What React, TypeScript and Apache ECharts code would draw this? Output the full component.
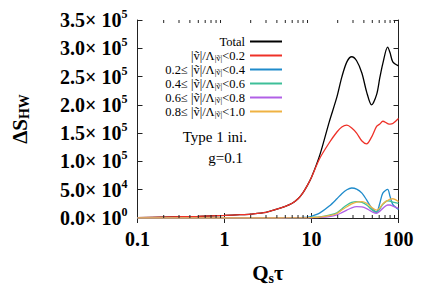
import React, { useEffect, useRef } from "react";
import * as echarts from "echarts";

const xs = [0.1, 0.2, 0.5, 1, 1.5, 2, 3, 4, 5, 6, 7, 8, 9, 10, 12.5, 16, 19.6, 22.3, 25.5, 29, 33, 38, 43, 49, 56, 61, 66, 75, 80, 86, 100];

const totalVals = [500, 1500, 3000, 4500, 5800, 7000, 10000, 15500, 20500, 26000, 34000, 45000, 58000, 72000, 112000, 170000, 214000, 249000, 276000, 285000, 278000, 256000, 223000, 200000, 218000, 248000, 273000, 302000, 292000, 276000, 269000];
const bin1Vals = [500, 1500, 3000, 4500, 5800, 7000, 10000, 15500, 20500, 26000, 34000, 45000, 58000, 72000, 106000, 133000, 152000, 161000, 164000, 159000, 150000, 136000, 131000, 143000, 162000, 166000, 171000, 167000, 166000, 167000, 176000];
const bin2Vals = [0, 0, 0, 0, 0, 0, 50, 100, 200, 300, 500, 900, 1500, 3000, 9000, 21000, 34000, 43000, 50000, 53000, 51000, 44000, 32000, 18000, 11000, 26000, 44000, 50500, 38000, 24000, 15000];
const bin3Vals = [0, 0, 0, 0, 0, 0, 0, 30, 60, 100, 150, 250, 400, 1000, 2000, 5000, 9000, 16000, 23000, 27500, 29000, 27500, 23000, 15000, 9500, 16000, 24000, 30500, 30000, 28000, 26000];
const bin4Vals = [0, 0, 0, 0, 0, 0, 0, 20, 40, 70, 100, 150, 250, 400, 1000, 2500, 5500, 9500, 14000, 18000, 20000, 19500, 16500, 11500, 8300, 12000, 17000, 23000, 23000, 21000, 17000];
const bin5Vals = [0, 0, 0, 0, 0, 0, 0, 25, 50, 90, 130, 200, 350, 800, 1600, 4000, 8000, 14000, 20000, 25000, 28000, 28800, 26000, 19000, 14000, 18000, 25000, 31000, 33500, 34000, 29000];

const seriesNames = ["Total", "bin 0.0-0.2", "bin 0.2-0.4", "bin 0.4-0.6", "bin 0.6-0.8", "bin 0.8-1.0"];
const legendLabels = [
  "{t|Total}",
  "{t||ṽ|/Λ}{s||ṽ|}{t|<0.2}",
  "{t|0.2≤ |ṽ|/Λ}{s||ṽ|}{t|<0.4}",
  "{t|0.4≤ |ṽ|/Λ}{s||ṽ|}{t|<0.6}",
  "{t|0.6≤ |ṽ|/Λ}{s||ṽ|}{t|<0.8}",
  "{t|0.8≤ |ṽ|/Λ}{s||ṽ|}{t|<1.0}",
];
const seriesValues = [totalVals, bin1Vals, bin2Vals, bin3Vals, bin4Vals, bin5Vals];
const seriesColors = ["#000000", "#ee3128", "#1f8bcb", "#3dbf98", "#b160e6", "#efb243"];

const minorTicks = [0.2, 0.3, 0.4, 0.5, 0.6, 0.7, 0.8, 0.9, 2, 3, 4, 5, 6, 7, 8, 9, 20, 30, 40, 50, 60, 70, 80, 90];

const yMin = 0;
const yMax = 350000;
const yStep = 50000;

const FONT = "Liberation Serif";

function yLabel(v: number): string {
  const e = v === 0 ? 0 : Math.floor(Math.log10(v) + 1e-9);
  const m = v === 0 ? 0 : v / Math.pow(10, e);
  return `{m|${m.toFixed(1)}× 10}{e|${e}}`;
}

export default function App() {
  const ref = useRef<HTMLDivElement>(null);
  useEffect(() => {
    const chart = echarts.init(ref.current!, null, { renderer: "svg" });
    const lineSeries = seriesNames.map((name, k) => ({
      name,
      type: "line",
      data: xs.map((x, i) => [x, seriesValues[k][i]]),
      showSymbol: false,
      symbol: "none",
      smooth: 0.3,
      lineStyle: { color: seriesColors[k], width: 1.3 },
      itemStyle: { color: seriesColors[k] },
      z: 3 + k,
    }));
    const axisLineStyle = { show: true, lineStyle: { color: "#222", width: 1 } };
    const option: any = {
      animation: false,
      grid: { left: 137.5, right: 37.5, top: 20, bottom: 87, containLabel: false },
      legend: {
        data: seriesNames,
        orient: "vertical",
        align: "right",
        right: 149,
        top: 30,
        itemWidth: 32,
        itemHeight: 2,
        itemGap: 1,
        icon: "rect",
        selectedMode: false,
        formatter: (name: string) => legendLabels[seriesNames.indexOf(name)],
        textStyle: {
          fontFamily: FONT,
          fontSize: 12.5,
          color: "#000",
          rich: {
            t: { fontFamily: FONT, fontSize: 12.5, color: "#000", lineHeight: 11.5 },
            s: { fontFamily: FONT, fontSize: 8.5, color: "#000", lineHeight: 11.5, padding: [4, 0, 0, 0] },
          },
        },
      },
      xAxis: [
        {
          type: "log",
          logBase: 10,
          min: 0.1,
          max: 100,
          position: "bottom",
          axisLine: axisLineStyle,
          axisTick: { show: true, inside: true, length: 5, lineStyle: { color: "#222" } },
          splitLine: { show: false },
          axisLabel: {
            margin: 11,
            fontFamily: FONT,
            fontWeight: "bold",
            fontSize: 20,
            color: "#000",
            formatter: (v: number) => String(v),
          },
          name: "{a|Q}{s|s}{a|τ}",
          nameLocation: "middle",
          nameGap: 43,
          nameTextStyle: {
            rich: {
              a: { fontFamily: FONT, fontWeight: "bold", fontSize: 21, color: "#000" },
              s: { fontFamily: FONT, fontWeight: "bold", fontSize: 14, color: "#000", padding: [10, 0, 0, 0] },
            },
          },
        },
        {
          type: "log",
          logBase: 10,
          min: 0.1,
          max: 100,
          position: "top",
          axisLine: axisLineStyle,
          axisTick: { show: true, inside: true, length: 5, lineStyle: { color: "#222" } },
          axisLabel: { show: false },
          splitLine: { show: false },
        },
      ],
      yAxis: [
        {
          type: "value",
          min: yMin,
          max: yMax,
          interval: yStep,
          position: "left",
          axisLine: axisLineStyle,
          axisTick: { show: true, inside: true, length: 5, lineStyle: { color: "#222" } },
          splitLine: { show: false },
          axisLabel: {
            margin: 10,
            formatter: yLabel,
            rich: {
              m: { fontFamily: FONT, fontWeight: "bold", fontSize: 20, color: "#000" },
              e: { fontFamily: FONT, fontWeight: "bold", fontSize: 12, color: "#000", padding: [0, 0, 12, 0] },
            },
          },
          name: "{a|ΔS}{s|HW}",
          nameLocation: "middle",
          nameGap: 106,
          nameTextStyle: {
            rich: {
              a: { fontFamily: FONT, fontWeight: "bold", fontSize: 21, color: "#000" },
              s: { fontFamily: FONT, fontWeight: "bold", fontSize: 14, color: "#000", padding: [10, 0, 0, 0] },
            },
          },
        },
        {
          type: "value",
          min: yMin,
          max: yMax,
          interval: yStep,
          position: "right",
          axisLine: axisLineStyle,
          axisTick: { show: true, inside: true, length: 5, lineStyle: { color: "#222" } },
          axisLabel: { show: false },
          splitLine: { show: false },
        },
      ],
      graphic: [
        {
          type: "text",
          right: 436 - 247,
          top: 129,
          style: { text: "Type 1 ini.", fontFamily: FONT, fontSize: 15, fill: "#000", align: "right" },
        },
        {
          type: "text",
          right: 436 - 243,
          top: 150,
          style: { text: "g=0.1", fontFamily: FONT, fontSize: 15, fill: "#000", align: "right" },
        },
      ],
      series: [
        ...lineSeries,
        {
          type: "custom",
          name: "minor ticks",
          silent: true,
          xAxisIndex: 0,
          yAxisIndex: 0,
          data: minorTicks.map((v) => [v, 0]),
          z: 10,
          renderItem: (params: any, api: any) => {
            const x = api.value(0);
            const b = api.coord([x, yMin]);
            const t = api.coord([x, yMax]);
            return {
              type: "group",
              children: [
                { type: "line", shape: { x1: b[0], y1: b[1], x2: b[0], y2: b[1] - 3 }, style: { stroke: "#222", lineWidth: 1 } },
                { type: "line", shape: { x1: t[0], y1: t[1], x2: t[0], y2: t[1] + 3 }, style: { stroke: "#222", lineWidth: 1 } },
              ],
            };
          },
        },
      ],
    };
    chart.setOption(option);
    return () => chart.dispose();
  }, []);
  return <div ref={ref} style={{ position: "absolute", left: 0, top: 0, width: 436, height: 305 }} />;
}
